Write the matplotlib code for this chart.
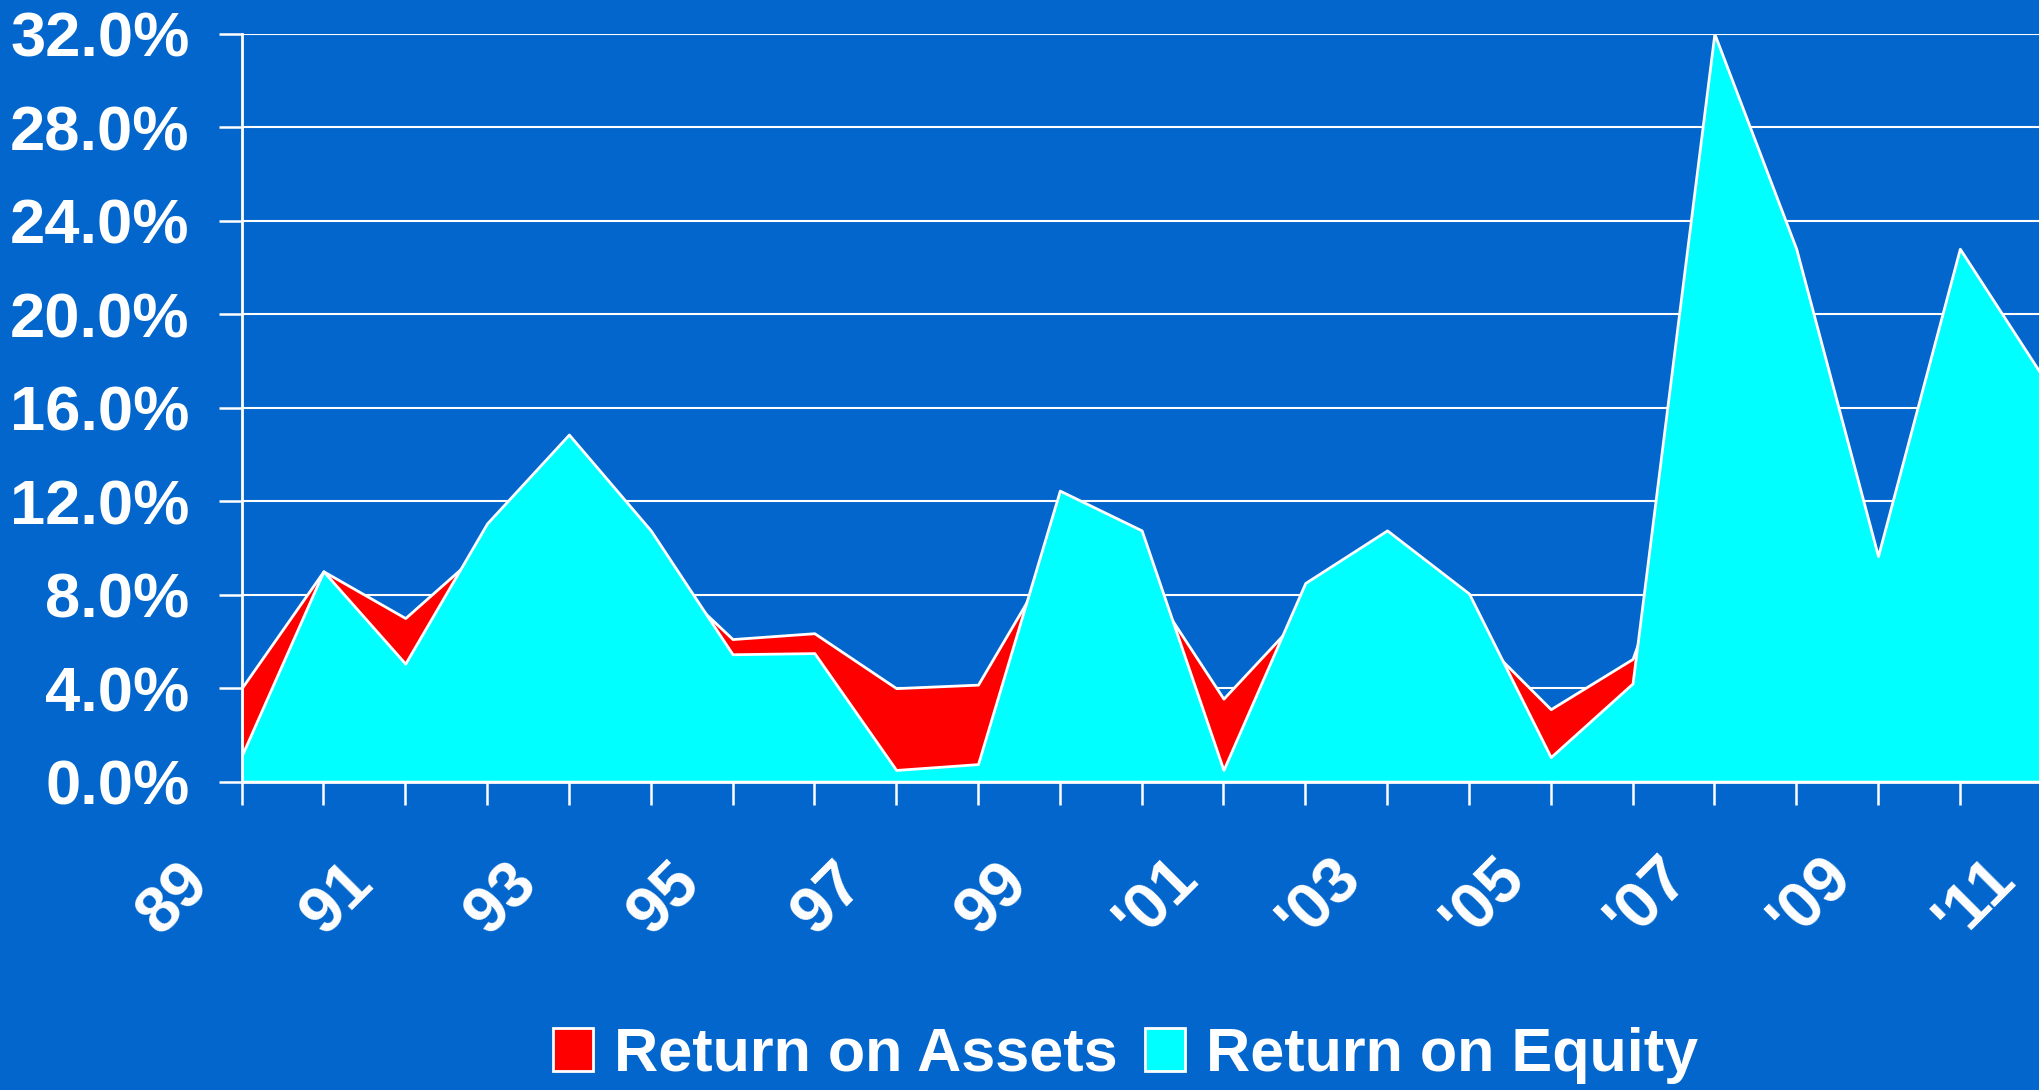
import matplotlib.pyplot as plt
from matplotlib.transforms import ScaledTranslation

plt.rcParams['font.family'] = ['Liberation Sans', 'DejaVu Sans']
plt.rcParams['font.weight'] = 'bold'

# Bank returns, fiscal 1989-2011 (percent)
years = list(range(1989, 2012))
roa = [4.0, 9.0, 7.0, 10.1, 11.5, 9.4, 6.1, 6.35, 4.0, 4.15, 10.1, 8.9,
       3.55, 7.3, 8.5, 6.6, 3.1, 5.25, 15.0, 15.0, 6.0, 14.0, 11.0]
roe = [1.1, 9.0, 5.05, 11.05, 14.85, 10.75, 5.45, 5.5, 0.5, 0.75, 12.45, 10.75,
       0.5, 8.5, 10.75, 8.05, 1.05, 4.2, 32.0, 22.8, 9.65, 22.8, 17.4]
year_labels = ['89', '', '91', '', '93', '', '95', '', '97', '', '99', '',
               "'01", '', "'03", '', "'05", '', "'07", '', "'09", '', "'11"]
y_ticks = [0, 4, 8, 12, 16, 20, 24, 28, 32]

bg = '#0366CC'
fig = plt.figure(figsize=(20.39, 10.90), dpi=100, facecolor=bg)
ax = fig.add_axes([0.1185, 0.2829, 0.8828, 0.6862])
ax.set_facecolor(bg)

ax.fill_between(years, roa, color='#FF0000', edgecolor='white', linewidth=2.0,
                label='Return on Assets')
ax.fill_between(years, roe, color='#00FFFF', edgecolor='white', linewidth=2.0,
                label='Return on Equity')

ax.set_xlim(years[0], years[-1])
ax.set_ylim(0, 32)
ax.set_axisbelow(True)
ax.grid(axis='y', color='white', linewidth=1.5)

for side in ['top', 'right']:
    ax.spines[side].set_visible(False)
for side in ['left', 'bottom']:
    ax.spines[side].set_color('white')
    ax.spines[side].set_linewidth(2.0)

ax.set_yticks(y_ticks)
ax.set_yticklabels([f'{v:.1f}%' for v in y_ticks])
ax.set_xticks(years)
ax.set_xticklabels(year_labels)

ax.tick_params(axis='both', colors='white', length=16.5, width=1.8, direction='out')
ax.tick_params(axis='y', labelsize=45.5, pad=21)
ax.tick_params(axis='x', labelsize=47, pad=68)

# shift the slanted year labels left of their ticks
shift = ScaledTranslation(-0.67, 0, fig.dpi_scale_trans)
for lbl in ax.get_xticklabels():
    lbl.set_rotation(45)
    lbl.set_rotation_mode('anchor')
    lbl.set_ha('center')
    lbl.set_va('center')
    lbl.set_transform(lbl.get_transform() + shift)

leg = fig.legend(loc='center', bbox_to_anchor=(0.552, 0.032), ncol=2, frameon=False,
                 fontsize=44, handlelength=0.65, handleheight=0.7,
                 handletextpad=0.35, columnspacing=0.45, borderaxespad=0)
for txt in leg.get_texts():
    txt.set_color('white')

fig.savefig('out.png', dpi=100, facecolor=bg)
